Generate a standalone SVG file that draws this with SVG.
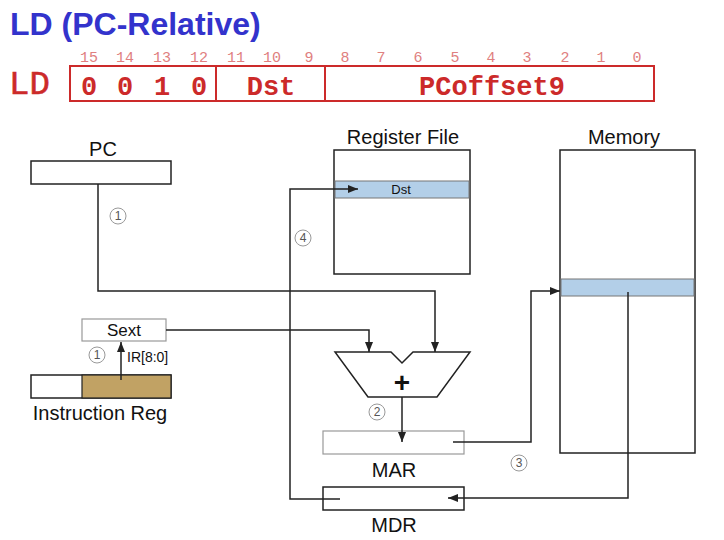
<svg xmlns="http://www.w3.org/2000/svg" width="724" height="540" viewBox="0 0 724 540">
<defs>
<marker id="ah" markerWidth="10" markerHeight="8" refX="10" refY="4" orient="auto" markerUnits="userSpaceOnUse">
<path d="M0,0 L10,4 L0,8 Z" fill="#222"/>
</marker>
<style>
.t{font-family:"Liberation Sans",Arial,sans-serif;fill:#111}
.lab{font-size:20px;text-anchor:middle}
.bit{font-family:"Liberation Mono","Courier New",monospace;font-size:15px;fill:#e08080;text-anchor:middle}
.fld{font-family:"Liberation Mono","Courier New",monospace;font-size:27px;font-weight:bold;fill:#cc2a2a;text-anchor:middle}
.box{fill:#fff;stroke:#222;stroke-width:1.5}
.lbox{fill:#fff;stroke:#999;stroke-width:1.2}
.w{fill:none;stroke:#222;stroke-width:1.5}
.c circle{fill:#fff;stroke:#999;stroke-width:1}
.c text{font-family:"Liberation Sans",Arial,sans-serif;font-size:12px;fill:#555;text-anchor:middle}
</style>
</defs>
<rect width="724" height="540" fill="#fff"/>
<text x="10" y="35" font-family="Liberation Sans,Arial,sans-serif" font-size="32" font-weight="bold" fill="#3333cc">LD (PC-Relative)</text>

<g id="format">
<text x="9" y="94" font-family="Liberation Mono,Courier New,monospace" font-size="34" fill="#cc2a2a" stroke="#cc2a2a" stroke-width="0.6">LD</text>
<rect x="70" y="66" width="584" height="35" fill="none" stroke="#cc2a2a" stroke-width="2"/>
<line x1="216" y1="66" x2="216" y2="101" stroke="#cc2a2a" stroke-width="2"/>
<line x1="325" y1="66" x2="325" y2="101" stroke="#cc2a2a" stroke-width="2"/>
<text class="bit" y="62"><tspan x="89">15</tspan><tspan x="125">14</tspan><tspan x="162">13</tspan><tspan x="199">12</tspan><tspan x="236">11</tspan><tspan x="272">10</tspan><tspan x="309">9</tspan><tspan x="345">8</tspan><tspan x="381">7</tspan><tspan x="418">6</tspan><tspan x="455">5</tspan><tspan x="491">4</tspan><tspan x="527">3</tspan><tspan x="565">2</tspan><tspan x="601">1</tspan><tspan x="637">0</tspan></text>
<text class="fld" y="95"><tspan x="89">0</tspan><tspan x="125">0</tspan><tspan x="162">1</tspan><tspan x="199">0</tspan></text>
<text class="fld" x="271" y="95">Dst</text>
<text class="fld" x="492" y="95">PCoffset9</text>
</g>

<g id="pc">
<text class="t lab" x="103" y="156">PC</text>
<rect class="box" x="31" y="161" width="140" height="23"/>
</g>

<g id="sext">
<rect class="lbox" x="82" y="319" width="84" height="22"/>
<text class="t" x="124" y="336" font-size="17" text-anchor="middle">Sext</text>
</g>

<g id="ir">
<rect class="box" x="31" y="375" width="140" height="23"/>
<rect x="82" y="375" width="89" height="23" fill="#c1a264" stroke="#222" stroke-width="1.2"/>
<text class="t" x="127" y="362" font-size="14">IR[8:0]</text>
<text class="t lab" x="100" y="420">Instruction Reg</text>
</g>

<g id="regfile">
<text class="t lab" x="403" y="144">Register File</text>
<rect class="box" x="334" y="150" width="136" height="124"/>
<rect x="335" y="181" width="134" height="17" fill="#b3cfe8" stroke="#777" stroke-width="1"/>
<text class="t" x="401" y="194" font-size="13" text-anchor="middle">Dst</text>
</g>

<g id="adder">
<path d="M335,352 L391,352 L402,363 L413,352 L470,352 L437,397 L368,397 Z" fill="#fff" stroke="#222" stroke-width="1.5"/>
<text class="t" x="402" y="392" font-size="28" font-weight="bold" text-anchor="middle">+</text>
</g>

<g id="mar">
<rect class="lbox" x="323" y="431" width="141" height="23"/>
<text class="t lab" x="394" y="477">MAR</text>
</g>

<g id="mdr">
<rect class="box" x="323" y="487" width="141" height="23"/>
<text class="t lab" x="394" y="532">MDR</text>
</g>

<g id="memory">
<text class="t lab" x="624" y="144">Memory</text>
<rect class="box" x="560" y="150" width="135" height="303"/>
<rect x="561" y="279" width="133" height="17" fill="#b3cfe8" stroke="#777" stroke-width="1"/>
</g>

<g id="connectors">
<polyline class="w" points="98,184 98,291 435,291 435,352" marker-end="url(#ah)"/>
<polyline class="w" points="166,330 369,330 369,352" marker-end="url(#ah)"/>
<line class="w" x1="121" y1="380" x2="121" y2="342" marker-end="url(#ah)"/>
<line class="w" x1="402" y1="397" x2="402" y2="442" marker-end="url(#ah)"/>
<polyline class="w" points="453,442 531,442 531,291 560,291" marker-end="url(#ah)"/>
<polyline class="w" points="628,292 628,498 448,498" marker-end="url(#ah)"/>
<polyline class="w" points="340,499 290,499 290,189 358,189" marker-end="url(#ah)"/>
</g>

<g id="steps" class="c">
<circle cx="118" cy="216" r="8"/><text x="118" y="220">1</text>
<circle cx="97" cy="355" r="8"/><text x="97" y="359">1</text>
<circle cx="377" cy="412" r="8"/><text x="377" y="416">2</text>
<circle cx="519" cy="463" r="8"/><text x="519" y="467">3</text>
<circle cx="303" cy="238" r="8"/><text x="303" y="242">4</text>
</g>
</svg>
